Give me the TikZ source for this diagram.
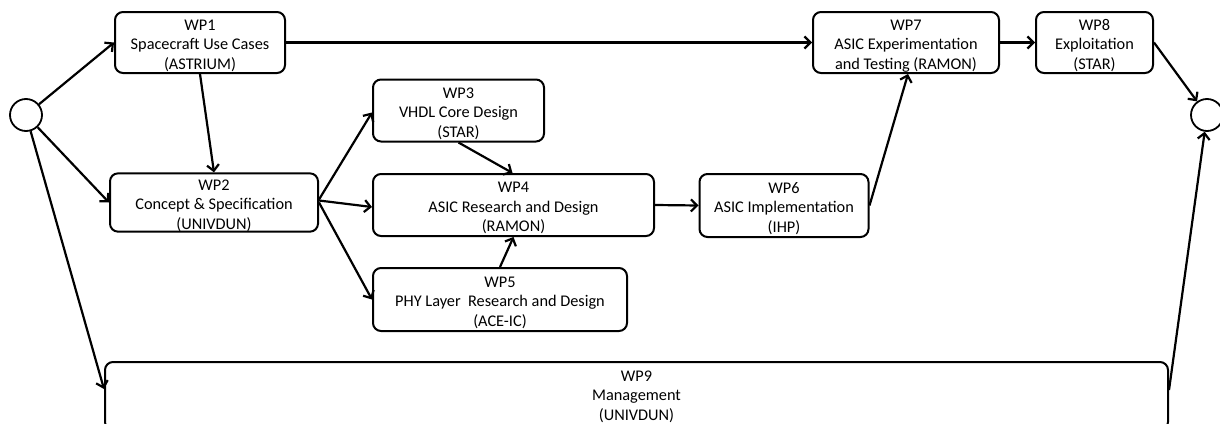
\documentclass[tikz,border=0pt]{standalone}
\usepackage{fontspec}
\setmainfont{Carlito}
\usetikzlibrary{arrows.meta}
% taller first line, so each three-line label sits a little lower in its box
\newcommand\wptopline{\rule{0pt}{17pt}}
\begin{document}
\begin{tikzpicture}[x=1pt,y=-1pt,
  wpbox/.style={draw, line width=2pt, rounded corners=8pt, align=center,
    inner sep=0pt, font=\fontsize{16.3}{19.5}\selectfont},
  milestone/.style={draw, line width=1.8pt, circle, minimum size=32pt, inner sep=0pt},
  flow/.style={line width=2.2pt, -{Straight Barb[length=6pt,width=12pt,line width=2.2pt]}}]
\useasboundingbox (0,0) rectangle (1220,423);

% start and end milestones
\node[milestone] (start) at (26,115) {};
\node[milestone] (finish) at (1207,115) {};

% work packages
\node[wpbox, minimum width=170pt, minimum height=61pt] (wp1) at (200,42.5)
  {\wptopline WP1\\Spacecraft Use Cases\\(ASTRIUM)};
\node[wpbox, minimum width=208pt, minimum height=57pt] (wp2) at (214,202.5)
  {\wptopline WP2\\Concept \& Specification\\(UNIVDUN)};
\node[wpbox, minimum width=171pt, minimum height=62pt] (wp3) at (458.5,110.5)
  {\wptopline WP3\\VHDL Core Design\\(STAR)};
\node[wpbox, minimum width=281pt, minimum height=62pt] (wp4) at (513.5,205)
  {\wptopline WP4\\ASIC Research and Design\\(RAMON)};
\node[wpbox, minimum width=254pt, minimum height=63pt] (wp5) at (500,299.5)
  {\wptopline WP5\\PHY Layer\ \ Research and Design\\(ACE-IC)};
\node[wpbox, minimum width=169pt, minimum height=63pt] (wp6) at (784,205.5)
  {\wptopline WP6\\ASIC Implementation\\(IHP)};
\node[wpbox, minimum width=186pt, minimum height=61pt] (wp7) at (906,42.5)
  {\wptopline WP7\\ASIC Experimentation\\and Testing (RAMON)};
\node[wpbox, minimum width=117pt, minimum height=61pt] (wp8) at (1094.5,42.5)
  {\wptopline WP8\\Exploitation\\(STAR)};
% the management box runs past the lower edge of the page
\node[wpbox, minimum width=1063pt, minimum height=68pt] (wp9) at (636.5,396)
  {\rule{0pt}{12pt}WP9\\Management\\(UNIVDUN)};

% dependencies
\draw[flow] (start) -- (wp1.west);
\draw[flow] (start) -- (wp2.west);
\draw[flow] (start) -- ([yshift=7pt]wp9.west);
\draw[flow] (wp1.south) -- (wp2.north);
\draw[flow] (wp1.east) -- (wp7.west);
\draw[flow] ([yshift=3pt]wp2.east) -- ([yshift=-2pt]wp3.west);
\draw[flow] ([yshift=2pt]wp2.east) -- ([yshift=-2pt]wp4.west);
\draw[flow] (wp2.east) -- (wp5.west);
\draw[flow] (wp3.south) -- ([xshift=-1pt]wp4.north);
\draw[flow] (wp5.north) -- (wp4.south);
\draw[flow] (wp4.east) -- (wp6.west);
\draw[flow] (wp6.east) -- ([xshift=2pt]wp7.south);
\draw[flow] (wp7.east) -- (wp8.west);
\draw[flow] (wp8.east) -- (finish);
\draw[flow] ([yshift=6pt]wp9.east) -- (finish);
\end{tikzpicture}
\end{document}
